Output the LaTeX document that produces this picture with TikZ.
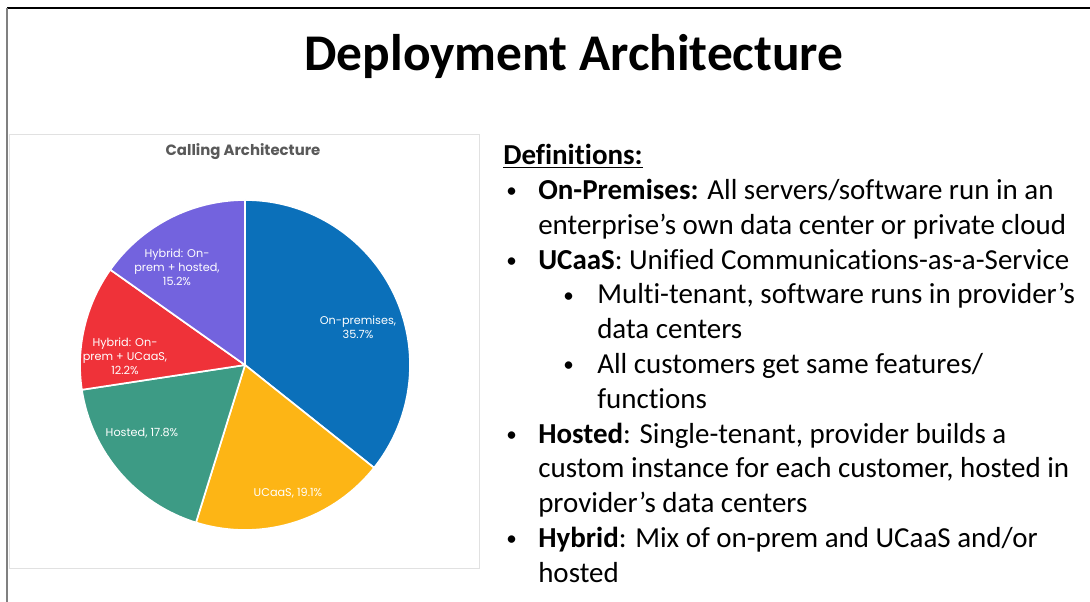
\documentclass[tikz,border=0pt]{standalone}
\usepackage{fontspec}
\setmainfont{Carlito}[Ligatures={TeX,NoCommon}]
\newfontfamily\chartfont{Poppins}
\usetikzlibrary{positioning}
\definecolor{onpremblue}{RGB}{11,112,186}
\definecolor{ucaasyellow}{RGB}{253,181,21}
\definecolor{hostedgreen}{RGB}{61,155,133}
\definecolor{hybridred}{RGB}{239,50,57}
\definecolor{hybridpurple}{RGB}{115,99,222}
\definecolor{chartgray}{RGB}{89,89,89}
\definecolor{framegray}{RGB}{128,128,128}
\definecolor{chartborder}{RGB}{225,225,225}
\tikzset{
    % Define standard node styles
    slidetitle/.style={
        font=\fontsize{36.6}{40}\selectfont\bfseries, text=black
    },
    charttitle/.style={
        font=\chartfont\fontsize{10.6}{12}\selectfont\bfseries, text=chartgray
    },
    slice/.style={
        draw=white, line width=1.2pt, line join=round
    },
    slicelabel/.style={
        font=\chartfont\fontsize{8}{10}\selectfont, text=white,
        align=center, inner sep=0pt
    },
    defline/.style={
        anchor=base west, inner sep=0pt,
        font=\fontsize{20.6}{24}\selectfont
    },
    bulletmark/.style={
        anchor=base west, inner sep=0pt,
        font=\fontsize{15}{18}\selectfont
    }
}
\begin{document}
\begin{tikzpicture}[x=0.025cm, y=-0.025cm]

\fill[white] (0,0) rectangle (1090,602);
\useasboundingbox (0,0) rectangle (1090,602);

% slide frame
\draw[black, line width=1.1pt] (7,8) -- (1090,8);
\draw[framegray, line width=1.4pt] (7,8) -- (7,602);

\node[slidetitle] (title) at (574,56) {Deployment Architecture};

% chart
\draw[chartborder, line width=0.6pt] (9,134) rectangle (479,568);
\node[charttitle] (ctitle) at (243,152) {Calling Architecture};

\begin{scope}[shift={(245,365)}, y=0.025cm]
\filldraw[slice, fill=onpremblue] (0,0) -- (90:165) arc[start angle=90, end angle=-38.52, radius=165] -- cycle;
\filldraw[slice, fill=ucaasyellow] (0,0) -- (-38.52:165) arc[start angle=-38.52, end angle=-107.28, radius=165] -- cycle;
\filldraw[slice, fill=hostedgreen] (0,0) -- (-107.28:165) arc[start angle=-107.28, end angle=-171.36, radius=165] -- cycle;
\filldraw[slice, fill=hybridred] (0,0) -- (-171.36:165) arc[start angle=-171.36, end angle=-215.28, radius=165] -- cycle;
\filldraw[slice, fill=hybridpurple] (0,0) -- (-215.28:165) arc[start angle=-215.28, end angle=-270, radius=165] -- cycle;
\end{scope}

\node[slicelabel] (lonprem) at (358,327) {On-premises,\\35.7\%};
\node[slicelabel] (lucaas) at (288,493) {UCaaS, 19.1\%};
\node[slicelabel] (lhosted) at (142,433) {Hosted, 17.8\%};
\node[slicelabel] (lhybucaas) at (125,356) {Hybrid: On-\\prem + UCaaS,\\12.2\%};
\node[slicelabel] (lhybhosted) at (177,267) {Hybrid: On-\\prem + hosted,\\15.2\%};

% definitions
\node[defline] (defs) at (503,165) {\underline{\textbf{Definitions:}}};

\node[bulletmark] (b1) at (506,198) {•};
\node[defline] (d1) at (538,199.75) {\textbf{On-Premises:} All servers/software run in an};
\node[defline] (d2) at (538,234.5) {enterprise’s own data center or private cloud};
\node[bulletmark] (b2) at (506,267.5) {•};
\node[defline] (d3) at (538,269.25) {\textbf{UCaaS}: Unified Communications-as-a-Service};
\node[bulletmark] (b3) at (563,302.25) {•};
\node[defline] (d4) at (597,304) {Multi-tenant, software runs in provider’s};
\node[defline] (d5) at (597,338.75) {data centers};
\node[bulletmark] (b4) at (563,371.75) {•};
\node[defline] (d6) at (597,373.5) {All customers get same features/};
\node[defline] (d7) at (597,408.25) {functions};
\node[bulletmark] (b5) at (506,441.25) {•};
\node[defline] (d8) at (538,443) {\textbf{Hosted}: Single-tenant, provider builds a};
\node[defline] (d9) at (538,477.75) {custom instance for each customer, hosted in};
\node[defline] (d10) at (538,512.5) {provider’s data centers};
\node[bulletmark] (b6) at (506,545.5) {•};
\node[defline] (d11) at (538,547.25) {\textbf{Hybrid}: Mix of on-prem and UCaaS and/or};
\node[defline] (d12) at (538,582) {hosted};

\end{tikzpicture}
\end{document}
